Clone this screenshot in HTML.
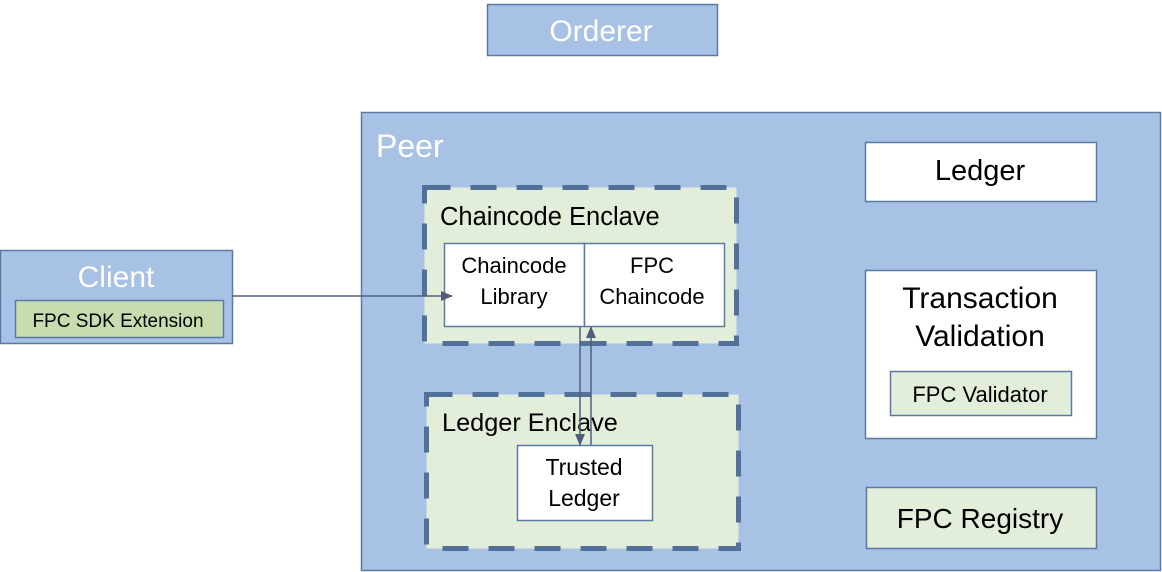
<!DOCTYPE html>
<html><head><style>body{margin:0;background:#fff}svg{display:block}</style></head><body>
<svg width="1162" height="572" viewBox="0 0 1162 572" xmlns="http://www.w3.org/2000/svg" font-family="Liberation Sans, sans-serif">
<defs><marker id="a" markerWidth="12" markerHeight="12" refX="11" refY="6" orient="auto" markerUnits="userSpaceOnUse"><path d="M0,1 L12,6 L0,11 z" fill="#4f5f7a"/></marker></defs>
<rect x="487.5" y="4.5" width="230" height="51" fill="#a8c2e5" stroke="#5a7aa6" stroke-width="1.5"/>
<text x="601" y="41" font-size="30" fill="#fff" text-anchor="middle">Orderer</text>
<rect x="361.5" y="112.5" width="799" height="458" fill="#a8c2e5" stroke="#5a7aa6" stroke-width="1.5"/>
<text x="376" y="157" font-size="32" fill="#fff">Peer</text>
<rect x="0.5" y="250.5" width="232" height="93" fill="#a8c2e5" stroke="#5a7aa6" stroke-width="1.5"/>
<text x="116" y="287" font-size="30" fill="#fff" text-anchor="middle">Client</text>
<rect x="15.5" y="300.5" width="208" height="37" fill="#c9dcb0" stroke="#5a7aa6" stroke-width="1.5"/>
<text x="118" y="327" font-size="19" text-anchor="middle">FPC SDK Extension</text>
<rect x="424.5" y="187.5" width="312" height="156" fill="#e2eed9" stroke="#51709a" stroke-width="5" stroke-dasharray="26,20"/>
<text x="440" y="225" font-size="25.5">Chaincode Enclave</text>
<rect x="444.5" y="243.5" width="140" height="83" fill="#fff" stroke="#5a7aa6" stroke-width="1.5"/>
<rect x="584.5" y="243.5" width="140" height="83" fill="#fff" stroke="#5a7aa6" stroke-width="1.5"/>
<text x="514" y="273" font-size="22" text-anchor="middle">Chaincode</text>
<text x="514" y="304" font-size="22" text-anchor="middle">Library</text>
<text x="652" y="273" font-size="22" text-anchor="middle">FPC</text>
<text x="652" y="304" font-size="22" text-anchor="middle">Chaincode</text>
<rect x="426.5" y="394.5" width="312" height="154" fill="#e2eed9" stroke="#51709a" stroke-width="5" stroke-dasharray="26,20"/>
<text x="442" y="431" font-size="25.3">Ledger Enclave</text>
<rect x="517.5" y="445.5" width="135" height="75" fill="#fff" stroke="#5a7aa6" stroke-width="1.5"/>
<text x="584" y="475" font-size="23" text-anchor="middle">Trusted</text>
<text x="584" y="506" font-size="23" text-anchor="middle">Ledger</text>
<line x1="232" y1="296" x2="452" y2="296" stroke="#4f5f7a" stroke-width="1.5" marker-end="url(#a)"/>
<line x1="580" y1="327" x2="580" y2="445" stroke="#4f5f7a" stroke-width="1.5" marker-end="url(#a)"/>
<line x1="591" y1="445" x2="591" y2="327" stroke="#4f5f7a" stroke-width="1.5" marker-end="url(#a)"/>
<rect x="865.5" y="142.5" width="231" height="59" fill="#fff" stroke="#5a7aa6" stroke-width="1.5"/>
<text x="980" y="180" font-size="29" text-anchor="middle">Ledger</text>
<rect x="865.5" y="270.5" width="231" height="168" fill="#fff" stroke="#5a7aa6" stroke-width="1.5"/>
<text x="980" y="308" font-size="30" text-anchor="middle">Transaction</text>
<text x="980" y="346" font-size="30" text-anchor="middle">Validation</text>
<rect x="890.5" y="371.5" width="181" height="44" fill="#e2eed9" stroke="#5a7aa6" stroke-width="1.5"/>
<text x="980" y="402" font-size="22" text-anchor="middle">FPC Validator</text>
<rect x="866.5" y="487.5" width="230" height="61" fill="#e2eed9" stroke="#5a7aa6" stroke-width="1.5"/>
<text x="980" y="528" font-size="28" text-anchor="middle">FPC Registry</text>
</svg>
</body></html>
